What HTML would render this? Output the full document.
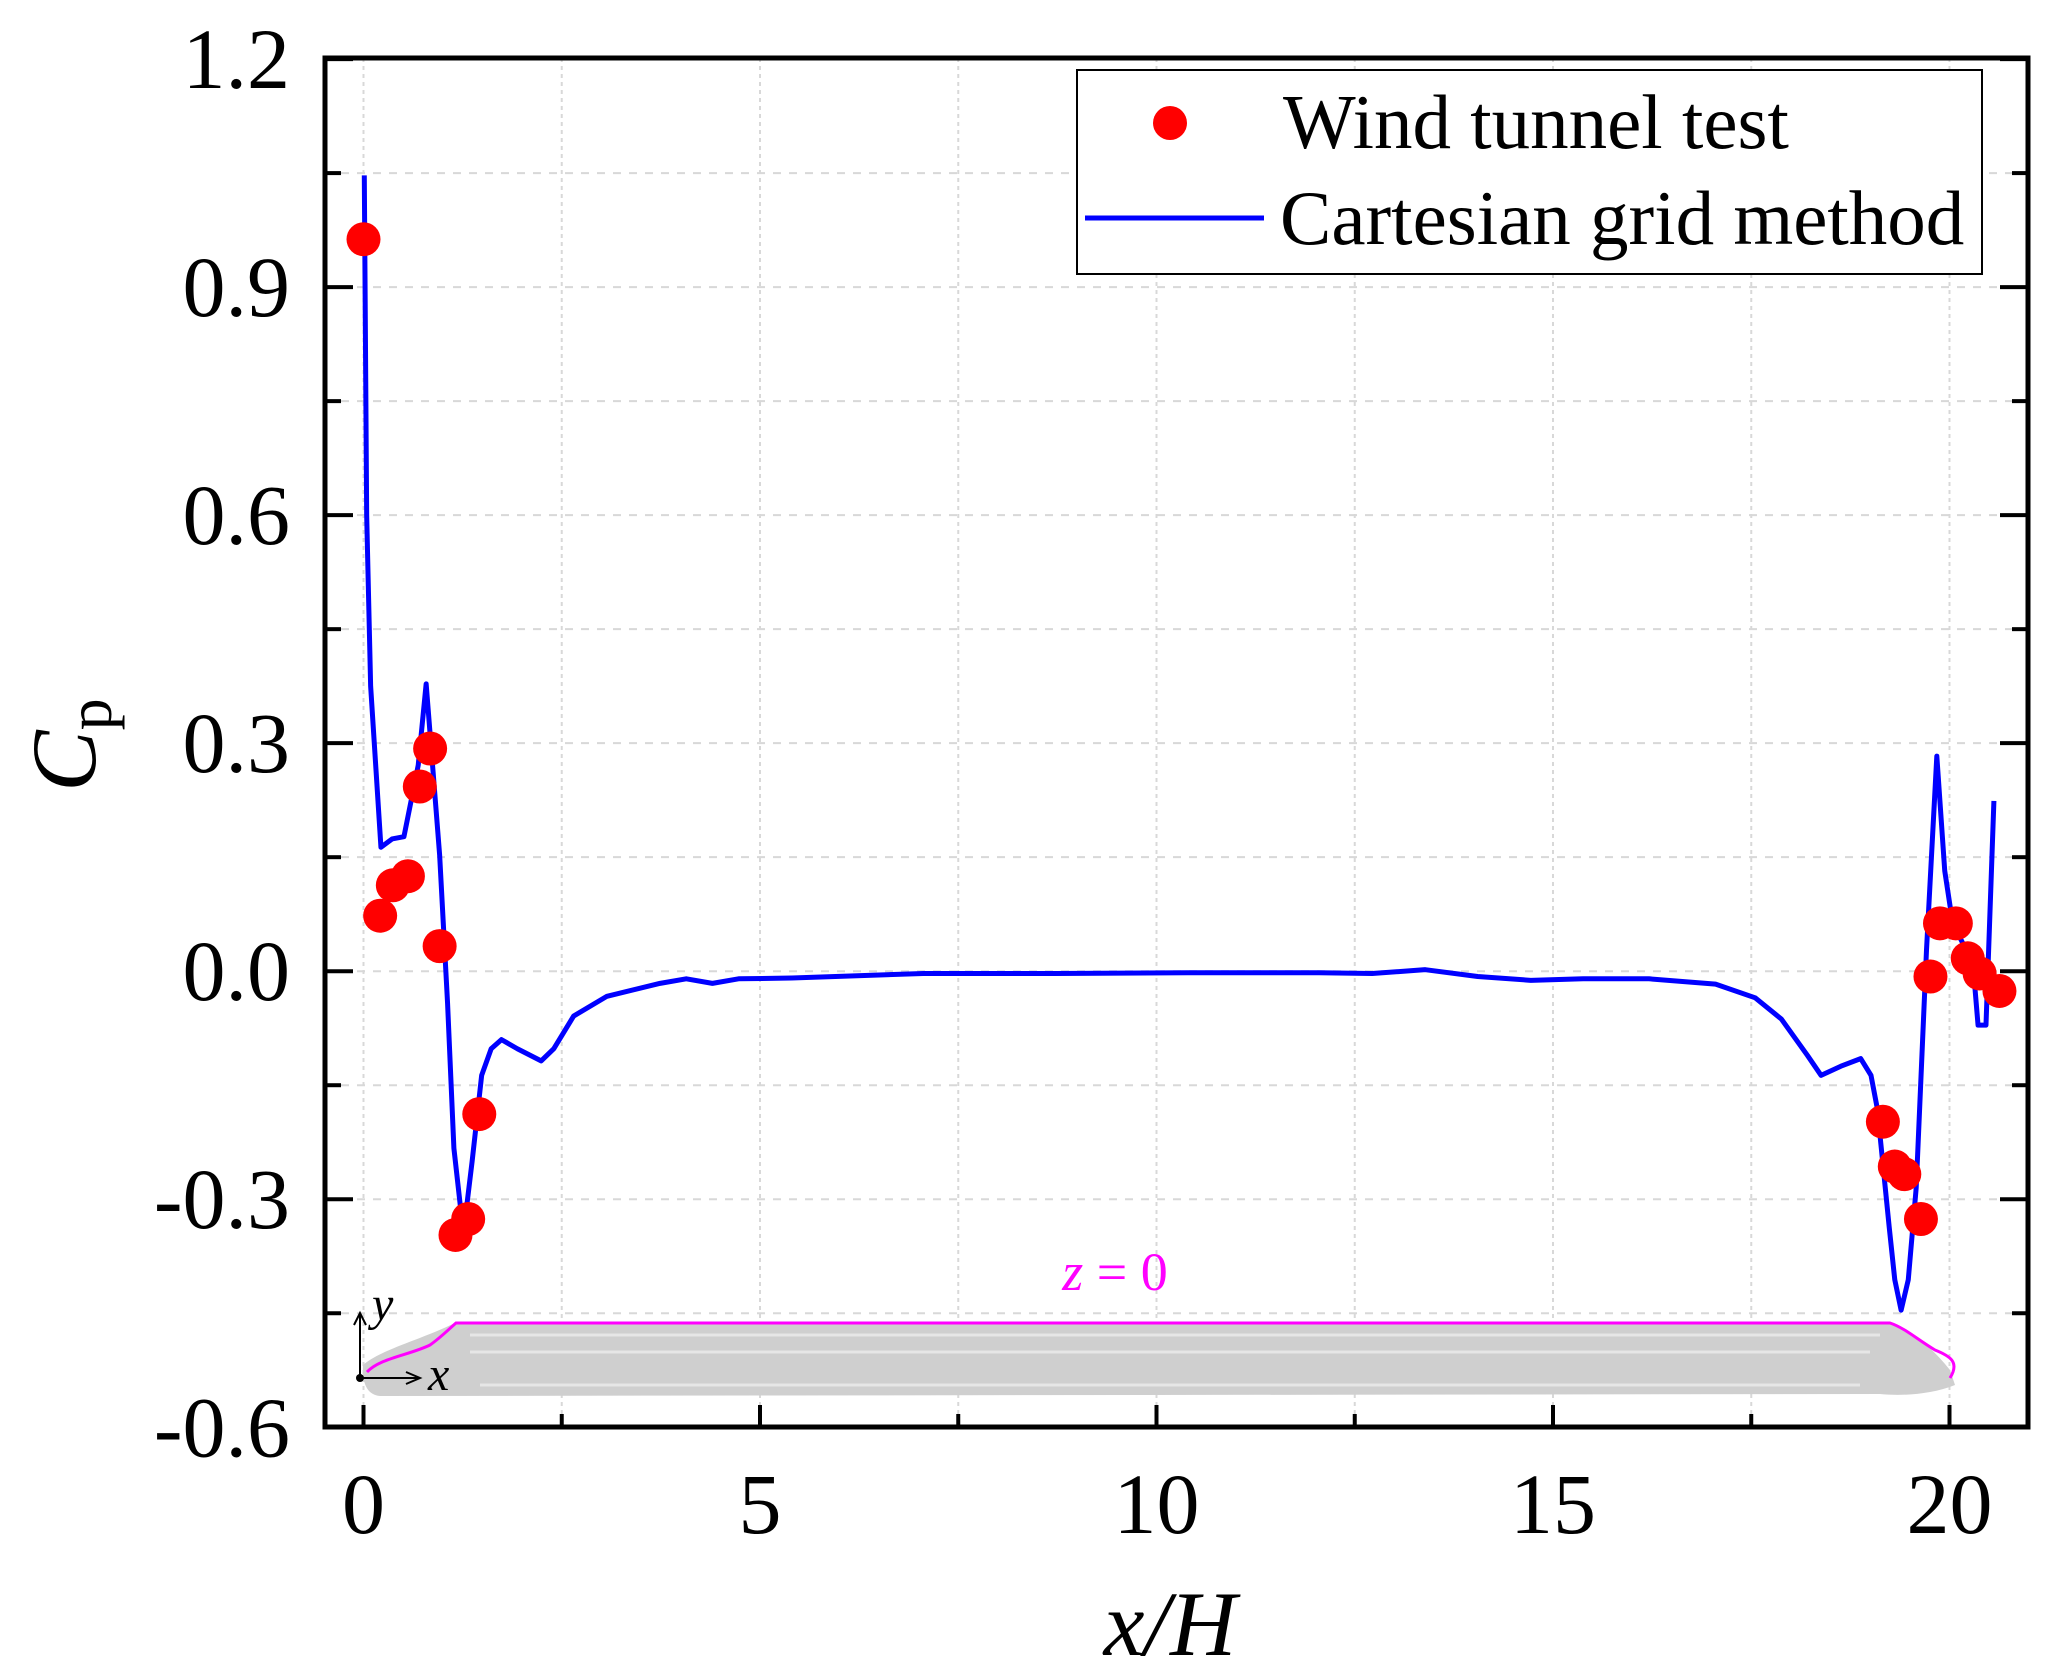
<!DOCTYPE html>
<html><head><meta charset="utf-8"><style>html,body{margin:0;padding:0;background:#fff}svg{display:block}text{font-family:"Liberation Serif",serif}</style></head>
<body>
<svg id="chart" width="2048" height="1666" viewBox="0 0 2048 1666" xmlns="http://www.w3.org/2000/svg">
<g id="grid"></g>
<g id="train">
<path d="M363,1365 C380,1350 420,1340 455,1323 L1890,1323 C1910,1330 1930,1345 1950,1370 L1955,1385 C1930,1395 1900,1396 1880,1394 L380,1396 C368,1395 362,1385 363,1365 Z" fill="#cfcfcf"/>
<path d="M470,1335 L1880,1335 M470,1352 L1870,1352 M480,1385 L1860,1385" stroke="#e6e6e6" stroke-width="3" fill="none"/>
<path d="M367,1372 C380,1358 410,1355 430,1345 C440,1338 448,1330 456,1323 L1890,1323 C1905,1328 1918,1340 1935,1350 C1950,1356 1960,1362 1950,1378" stroke="#ff00ff" stroke-width="3" fill="none"/>
<path d="M360,1378 L360,1315 M354,1325 L360,1313 L366,1325 M360,1378 L418,1378 M406,1372 L420,1378 L406,1384" stroke="#000" stroke-width="2" fill="none"/>
<circle cx="360" cy="1378" r="4" fill="#000"/>
<text x="372" y="1320" font-size="48" font-style="italic">y</text>
<text x="428" y="1390" font-size="48" font-style="italic">x</text>
<text x="1115" y="1290" font-size="54" fill="#ff00ff" text-anchor="middle"><tspan font-style="italic">z</tspan> = 0</text>
</g>
<g id="series"></g>
<rect x="325" y="58" width="1703" height="1369" fill="none" stroke="#000" stroke-width="5"/>
<g id="axes"></g>
<text x="1170" y="1655" font-size="92" font-style="italic" text-anchor="middle">x/H</text>
<text transform="translate(95,745) rotate(-90)" font-size="92" text-anchor="middle"><tspan font-style="italic">C</tspan><tspan font-size="64" dy="16">p</tspan></text>
<g>
<rect x="1077" y="70" width="905" height="204" fill="#fff" stroke="#000" stroke-width="2"/>
<circle cx="1170" cy="123" r="17" fill="#ff0000"/>
<text x="1283" y="148" font-size="77">Wind tunnel test</text>
<line x1="1085" y1="218" x2="1264" y2="218" stroke="#0000ff" stroke-width="5"/>
<text x="1280" y="244" font-size="77">Cartesian grid method</text>
</g>
</svg>
<script>
const xTicks=[0,5,10,15,20];
const yTicks=[1.2,0.9,0.6,0.3,0.0,-0.3,-0.6];
const yTickLabels=["1.2","0.9","0.6","0.3","0.0","-0.3","-0.6"];
const expX=[0,0.21,0.37,0.56,0.71,0.84,0.96,1.16,1.32,1.46,19.16,19.31,19.43,19.64,19.76,19.88,20.08,20.23,20.38,20.63];
const expY=[0.963,0.073,0.113,0.125,0.243,0.293,0.033,-0.347,-0.326,-0.188,-0.198,-0.257,-0.267,-0.326,-0.007,0.063,0.063,0.017,-0.003,-0.026];
const simX=[0.01,0.04,0.09,0.22,0.36,0.51,0.69,0.79,0.96,1.06,1.14,1.26,1.37,1.49,1.61,1.74,1.94,2.24,2.40,2.65,3.07,3.74,4.07,4.40,4.73,5.40,7.06,8.73,10.39,12.05,12.72,13.39,14.05,14.72,15.38,16.21,17.05,17.55,17.88,18.21,18.38,18.63,18.88,19.01,19.09,19.24,19.31,19.39,19.48,19.58,19.71,19.84,19.94,20.04,20.21,20.32,20.36,20.46,20.56];
const simY=[1.047,0.60,0.375,0.163,0.174,0.177,0.271,0.378,0.153,-0.042,-0.233,-0.345,-0.25,-0.137,-0.102,-0.09,-0.102,-0.118,-0.102,-0.059,-0.033,-0.016,-0.010,-0.016,-0.010,-0.009,-0.003,-0.003,-0.002,-0.002,-0.003,0.002,-0.007,-0.012,-0.010,-0.010,-0.017,-0.035,-0.063,-0.111,-0.137,-0.125,-0.115,-0.137,-0.181,-0.337,-0.406,-0.446,-0.406,-0.285,0.028,0.283,0.132,0.063,0.028,-0.021,-0.071,-0.071,0.224];
const L=325,R=2028,T=58,B=1427;
const X=v=>363.5+v*79.3;
const Y=v=>971.2-v*760.1;
const NS='http://www.w3.org/2000/svg';
function mk(tag,attrs,parent){const e=document.createElementNS(NS,tag);for(const k in attrs)e.setAttribute(k,attrs[k]);parent.appendChild(e);return e;}
const grid=document.getElementById('grid'),axes=document.getElementById('axes'),series=document.getElementById('series');
for(let v=0;v<=20.01;v+=2.5){const g=mk('line',{x1:X(v),x2:X(v),y1:T,y2:B,stroke:'#d8d8d8','stroke-width':2,'stroke-dasharray':'4 4'},grid);

}
for(let v=-0.6;v<=1.21;v+=0.15){const g=mk('line',{x1:L,x2:R,y1:Y(v),y2:Y(v),stroke:'#d8d8d8','stroke-width':2,'stroke-dasharray':'8 8'},grid);

}
for(let v=0;v<=20.01;v+=2.5){const maj=Math.abs(v%5)<0.01;const t=mk('line',{x1:X(v),x2:X(v),y1:B,y2:B-(maj?22:13),stroke:'#000','stroke-width':4},axes);

}
xTicks.forEach(v=>{const t=mk('text',{x:X(v),y:1533,'font-size':86,'text-anchor':'middle'},axes);t.textContent=v;

});
for(let v=-0.6;v<=1.21;v+=0.15){const maj=Math.abs(Math.round(v/0.15))%2===0;[[L,L+(maj?28:16)],[R,R-(maj?28:16)]].forEach(p=>{const t=mk('line',{x1:p[0],x2:p[1],y1:Y(v),y2:Y(v),stroke:'#000','stroke-width':4},axes);

});}
yTicks.forEach((v,i)=>{const t=mk('text',{x:290,y:Y(v)+29,'font-size':86,'text-anchor':'end'},axes);t.textContent=yTickLabels[i];

});
const line=mk('polyline',{points:simX.map((x,i)=>X(x)+','+Y(simY[i])).join(' '),fill:'none',stroke:'#0000ff','stroke-width':5,'stroke-linejoin':'round'},series);


expX.forEach((x,i)=>{const c=mk('circle',{cx:X(x),cy:Y(expY[i]),r:17,fill:'#ff0000'},series);

});
</script>
</body></html>
